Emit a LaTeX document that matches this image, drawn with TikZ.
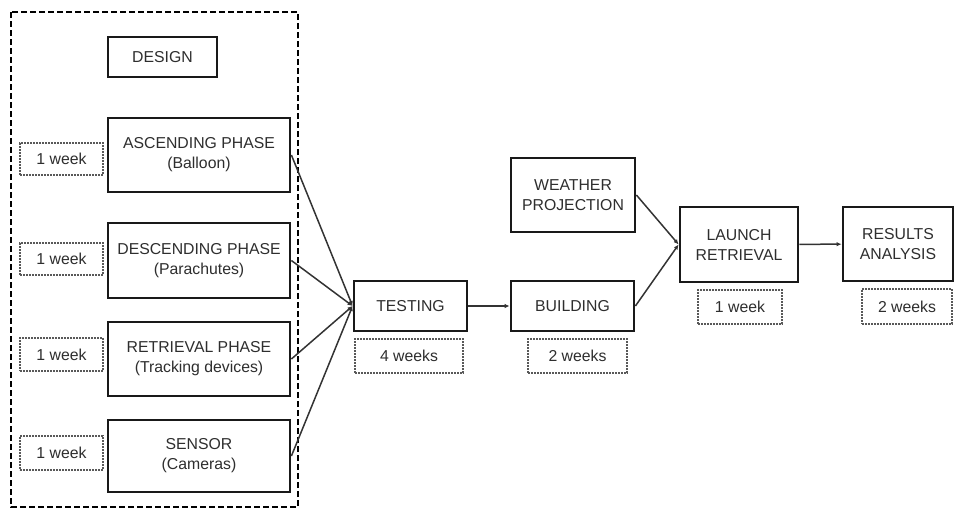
\documentclass[tikz,border=0pt]{standalone}
\usepackage{fontspec}
\setmainfont{Liberation Sans}
\usetikzlibrary{arrows.meta}
\begin{document}
\begin{tikzpicture}[x=1pt,y=-1pt,
  every node/.style={font=\fontsize{15.8}{20}\selectfont, text=black!82, align=center, inner sep=0pt},
  stepbox/.style={draw=black!90, line width=2.8pt, fill=white},
  dur/.style={draw=black!65, line width=1.3pt, dash pattern=on 2pt off 1pt, fill=white},
  conn/.style={draw=black!80, line width=1.5pt, -{Latex[length=5pt,width=4.5pt]}},
  frame/.style={draw=black, line width=2pt, dash pattern=on 6pt off 3pt}
  ]
\useasboundingbox (0,0) rectangle (955,509);
\draw[frame] (11,12) rectangle (298,507);
% design column
\node[stepbox, minimum width=109pt, minimum height=40pt] (design) at (162.5,57) {DESIGN};
\node[stepbox, minimum width=182pt, minimum height=74pt] (asc) at (199,155) {ASCENDING PHASE\\(Balloon)};
\node[stepbox, minimum width=182pt, minimum height=75pt] (desc) at (199,260.5) {DESCENDING PHASE\\(Parachutes)};
\node[stepbox, minimum width=182pt, minimum height=74pt] (retr) at (199,359) {RETRIEVAL PHASE\\(Tracking devices)};
\node[stepbox, minimum width=182pt, minimum height=72pt] (sens) at (199,456) {SENSOR\\(Cameras)};
\node[dur, minimum width=83pt, minimum height=32pt] (dasc) at (61.5,159) {1 week};
\node[dur, minimum width=83pt, minimum height=32pt] (ddesc) at (61.5,259) {1 week};
\node[dur, minimum width=83pt, minimum height=33pt] (dretr) at (61.5,354.5) {1 week};
\node[dur, minimum width=83pt, minimum height=34pt] (dsens) at (61.5,453) {1 week};
% middle
\node[stepbox, minimum width=113pt, minimum height=50pt] (test) at (410.5,306) {TESTING};
\node[dur, minimum width=108pt, minimum height=34pt] (dtest) at (409,356) {4 weeks};
\node[stepbox, minimum width=123pt, minimum height=50pt] (build) at (572.5,306) {BUILDING};
\node[dur, minimum width=99pt, minimum height=34pt] (dbuild) at (577.5,356) {2 weeks};
\node[stepbox, minimum width=124pt, minimum height=74pt] (weather) at (573,195) {WEATHER\\PROJECTION};
\node[stepbox, minimum width=118pt, minimum height=75pt] (launch) at (739,244.5) {LAUNCH\\RETRIEVAL};
\node[dur, minimum width=84pt, minimum height=34pt] (dlaunch) at (740,307) {1 week};
\node[stepbox, minimum width=110pt, minimum height=74pt] (res) at (898,244) {RESULTS\\ANALYSIS};
\node[dur, minimum width=90pt, minimum height=35pt] (dres) at (907,306.5) {2 weeks};
% connectors
\draw[conn] (asc.east) -- (test.west);
\draw[conn] (desc.east) -- (test.west);
\draw[conn] (retr.east) -- (test.west);
\draw[conn] (sens.east) -- (test.west);
\draw[conn] (test) -- (build);
\draw[conn] (weather.east) -- (launch.west);
\draw[conn] (build.east) -- (launch.west);
\draw[conn] (launch) -- (res);
\end{tikzpicture}
\end{document}
